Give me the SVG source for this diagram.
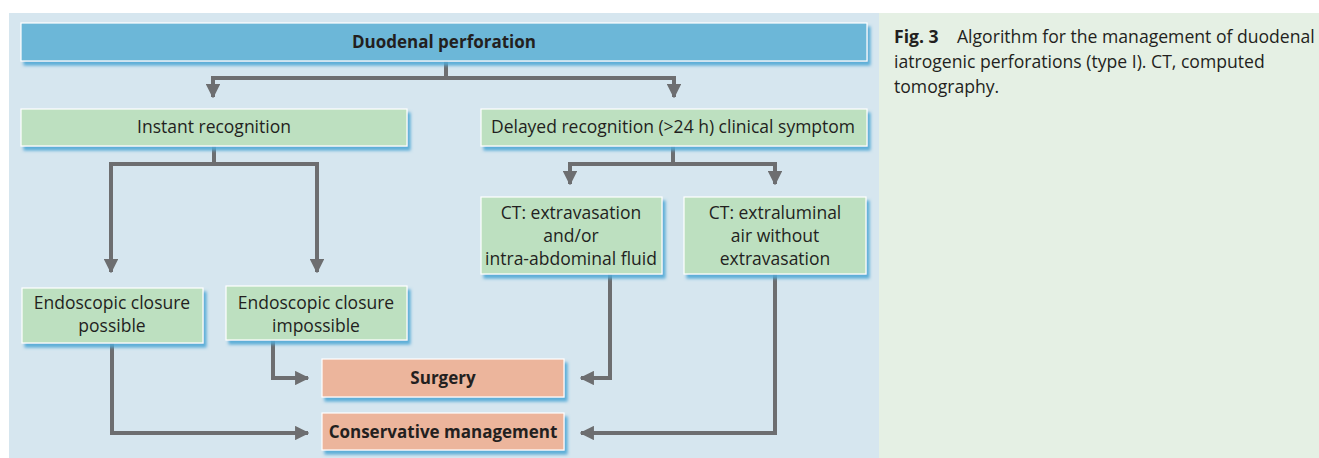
<svg xmlns="http://www.w3.org/2000/svg" width="1319" height="458" viewBox="0 0 1319 458">
<defs>
<filter id="sh" x="-10%" y="-20%" width="130%" height="160%">
<feDropShadow dx="3" dy="4" stdDeviation="1.6" flood-color="#4fa8d5" flood-opacity="0.9"/>
</filter>
<marker id="ah" viewBox="0 0 10 10" refX="9" refY="5" markerWidth="3.6" markerHeight="3.6" orient="auto" markerUnits="strokeWidth">
<path d="M0,0 L10,5 L0,10 z" fill="#6d6e70"/>
</marker>
</defs>
<style>
.box{stroke:#ffffff;stroke-width:1.2;filter:url(#sh)}
.top{fill:#6cb7d8}
.g{fill:#bde0c0}
.o{fill:#ecb59c}
.t{font-family:"Open Sans","Noto Sans",sans-serif;font-size:17.5px;fill:#231f20;text-anchor:middle}
.b{font-weight:bold;font-size:17px}
.c{fill:none;stroke:#6d6e70;stroke-width:4;stroke-linejoin:miter}
.cap{font-family:"Open Sans","Noto Sans",sans-serif;font-size:17.6px;fill:#231f20}
</style>
<rect x="0" y="0" width="1319" height="458" fill="#ffffff"/>
<rect x="9" y="13" width="870" height="445" fill="#d6e6ef"/>
<rect x="879" y="13" width="440" height="445" fill="#e5f0e4"/>

<g id="connectors">
<path class="c" d="M446,61 V78 H213 V97" marker-end="url(#ah)"/>
<path class="c" d="M446,78 H674 V97" marker-end="url(#ah)"/>
<path class="c" d="M214,146 V164 H111 V272" marker-end="url(#ah)"/>
<path class="c" d="M214,164 H317 V272" marker-end="url(#ah)"/>
<path class="c" d="M673,146 V164 H570 V184" marker-end="url(#ah)"/>
<path class="c" d="M673,164 H775 V184" marker-end="url(#ah)"/>
<path class="c" d="M112,343 V433 H308" marker-end="url(#ah)"/>
<path class="c" d="M273,340 V378 H308" marker-end="url(#ah)"/>
<path class="c" d="M610,274 V378 H581" marker-end="url(#ah)"/>
<path class="c" d="M775,274 V433 H581" marker-end="url(#ah)"/>
</g>

<g id="n-duodenal">
<rect class="box top" x="21" y="23" width="846" height="38"/>
<text class="t b" x="444" y="48">Duodenal perforation</text>
</g>
<g id="n-instant">
<rect class="box g" x="21" y="109" width="386" height="37"/>
<text class="t" x="214" y="133">Instant recognition</text>
</g>
<g id="n-delayed">
<rect class="box g" x="481" y="109" width="386" height="37"/>
<text class="t" x="673" y="133">Delayed recognition (&gt;24 h) clinical symptom</text>
</g>
<g id="n-ct1">
<rect class="box g" x="481" y="197" width="181" height="77"/>
<text class="t" x="571" y="219">CT: extravasation</text>
<text class="t" x="571" y="242">and/or</text>
<text class="t" x="571" y="265">intra-abdominal fluid</text>
</g>
<g id="n-ct2">
<rect class="box g" x="684" y="197" width="182" height="77"/>
<text class="t" x="775" y="219">CT: extraluminal</text>
<text class="t" x="775" y="242">air without</text>
<text class="t" x="775" y="265">extravasation</text>
</g>
<g id="n-possible">
<rect class="box g" x="22" y="288" width="181" height="55"/>
<text class="t" x="112" y="309">Endoscopic closure</text>
<text class="t" x="112" y="332">possible</text>
</g>
<g id="n-impossible">
<rect class="box g" x="226" y="286" width="181" height="54"/>
<text class="t" x="316" y="309">Endoscopic closure</text>
<text class="t" x="316" y="332">impossible</text>
</g>
<g id="n-surgery">
<rect class="box o" x="322" y="359" width="242" height="38"/>
<text class="t b" x="443" y="384">Surgery</text>
</g>
<g id="n-conservative">
<rect class="box o" x="322" y="413" width="242" height="37"/>
<text class="t b" x="443" y="438">Conservative management</text>
</g>

<g id="caption">
<text class="cap" x="894" y="43"><tspan font-weight="bold">Fig. 3</tspan><tspan x="957">Algorithm for the management of duodenal</tspan></text>
<text class="cap" x="894" y="68">iatrogenic perforations (type I). CT, computed</text>
<text class="cap" x="894" y="93">tomography.</text>
</g>
</svg>
